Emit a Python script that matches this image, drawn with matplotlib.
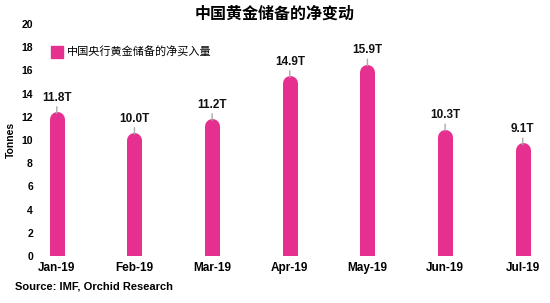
import matplotlib
matplotlib.use("Agg")
import matplotlib.pyplot as plt
from matplotlib.lines import Line2D

plt.rcParams['font.family'] = ['Liberation Sans', 'Noto Sans CJK SC', 'DejaVu Sans']

months = ["Jan-19", "Feb-19", "Mar-19", "Apr-19", "May-19", "Jun-19", "Jul-19"]
values = [11.8, 10.0, 11.2, 14.9, 15.9, 10.3, 9.1]
labels = ["11.8T", "10.0T", "11.2T", "14.9T", "15.9T", "10.3T", "9.1T"]
yticks = [0, 2, 4, 6, 8, 10, 12, 14, 16, 18, 20]

title = "中国黄金储备的净变动"
legend_label = "中国央行黄金储备的净买入量"
source = "Source: IMF, Orchid Research"

pink = "#E5308F"

fig = plt.figure(figsize=(5.5, 3.03), dpi=100)
ax = fig.add_axes([0.075, 0.155, 0.915, 0.766])

x = list(range(len(months)))
for xi, v in zip(x, values):
    ax.plot([xi, xi], [0, v], color=pink, lw=10.8, solid_capstyle='round', clip_on=True)

for xi, v, lab in zip(x, values, labels):
    ax.annotate(lab, xy=(xi, v + 0.5), xytext=(0, 11), textcoords='offset points',
                ha='center', va='center', fontsize=8.5, fontweight='bold', color='#111111',
                arrowprops=dict(arrowstyle='-', color='#aaaaaa', lw=1.0,
                                shrinkA=5, shrinkB=0))

ax.set_ylim(0, 20)
ax.set_xlim(-0.2, 6.28)
ax.set_yticks(yticks)
ax.set_yticklabels([str(t) for t in yticks], fontsize=7.5, fontweight='bold')
ax.set_xticks(x)
ax.set_xticklabels(months, fontsize=8.5, fontweight='bold')
ax.tick_params(length=0, pad=4)
ax.tick_params(axis='y', pad=6)
for s in ax.spines.values():
    s.set_visible(False)
ax.set_ylabel("Tonnes", fontsize=7.5, fontweight='bold', labelpad=4)

fig.text(0.5, 0.955, title, ha='center', va='center', fontsize=11.5, fontweight='bold')

handle = Line2D([], [], marker='s', color=pink, linestyle='None', markersize=8.5)
leg = fig.legend([handle], [legend_label], loc='center left', bbox_to_anchor=(0.075, 0.828),
                 frameon=False, fontsize=8, handletextpad=0.4, handlelength=1.0)

fig.text(0.027, 0.055, source, ha='left', va='center', fontsize=8, fontweight='bold')

fig.savefig("out.png", dpi=100)
